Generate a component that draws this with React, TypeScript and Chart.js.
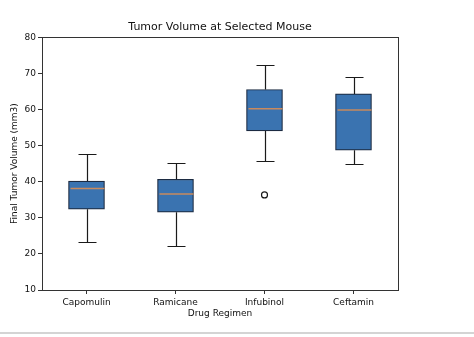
import React, { useEffect, useRef } from "react";
import { Chart, registerables } from "chart.js";

Chart.register(...registerables);

const categories = ["Capomulin", "Ramicane", "Infubinol", "Ceftamin"];
const q1 = [32.38, 31.56, 54.05, 48.72];
const q3 = [40.16, 40.66, 65.53, 64.3];
const medians = [38.13, 36.56, 60.17, 59.85];
const whiskerLow = [23.34, 22.05, 45.7, 45.0];
const whiskerHigh = [47.69, 45.22, 72.23, 68.92];
const outliers: (number | null)[] = [null, null, 36.32, null];
const yTicks = [10, 20, 30, 40, 50, 60, 70, 80];

const FONT = "'DejaVu Sans', sans-serif";

const boxPlugin = {
  id: "boxParts",
  afterDatasetsDraw(chart: any) {
    const ctx = chart.ctx;
    const xs = chart.scales.x;
    const ys = chart.scales.y;
    const meta = chart.getDatasetMeta(0);
    ctx.save();
    categories.forEach((_, i) => {
      const bar = meta.data[i];
      const x = Math.round(xs.getPixelForValue(i)) + 0.5;
      const w = bar ? bar.width : 36;
      const cap = w / 2;
      const yq1 = ys.getPixelForValue(q1[i]);
      const yq3 = ys.getPixelForValue(q3[i]);
      const ylo = Math.round(ys.getPixelForValue(whiskerLow[i])) + 0.5;
      const yhi = Math.round(ys.getPixelForValue(whiskerHigh[i])) + 0.5;
      ctx.strokeStyle = "#1a1a1a";
      ctx.lineWidth = 1.2;
      ctx.beginPath();
      ctx.moveTo(x, yq3);
      ctx.lineTo(x, yhi);
      ctx.moveTo(x - cap / 2, yhi);
      ctx.lineTo(x + cap / 2, yhi);
      ctx.moveTo(x, yq1);
      ctx.lineTo(x, ylo);
      ctx.moveTo(x - cap / 2, ylo);
      ctx.lineTo(x + cap / 2, ylo);
      ctx.stroke();
      const ym = ys.getPixelForValue(medians[i]);
      ctx.strokeStyle = "#c98a5e";
      ctx.lineWidth = 1.5;
      ctx.beginPath();
      ctx.moveTo(x - w / 2 + 1, ym);
      ctx.lineTo(x + w / 2 - 1, ym);
      ctx.stroke();
    });
    const a = chart.chartArea;
    ctx.strokeStyle = "#333";
    ctx.lineWidth = 1;
    ctx.strokeRect(
      Math.round(a.left) + 0.5,
      Math.round(a.top) + 0.5,
      Math.round(a.right - a.left),
      Math.round(a.bottom - a.top)
    );
    ctx.restore();
  },
};

export default function App() {
  const ref = useRef<HTMLCanvasElement>(null);
  useEffect(() => {
    if (!ref.current) return;
    const chart = new Chart(ref.current, {
      type: "bar",
      data: {
        labels: categories,
        datasets: [
          {
            type: "bar",
            data: categories.map((_, i) => [q1[i], q3[i]]) as any,
            backgroundColor: "#3a73b0",
            borderColor: "#1c2b42",
            borderWidth: 1.2,
            borderSkipped: false,
            barThickness: 36,
          },
          {
            type: "line",
            data: outliers as any,
            showLine: false,
            pointRadius: 3,
            pointBackgroundColor: "#ffffff",
            pointBorderColor: "#1a1a1a",
            pointBorderWidth: 1.2,
          } as any,
        ],
      },
      options: {
        animation: false,
        responsive: false,
        events: [],
        layout: { padding: { left: 0, right: 76, top: 0, bottom: 0 } },
        plugins: {
          legend: { display: false },
          tooltip: { enabled: false },
          title: {
            display: true,
            text: "Tumor Volume at Selected Mouse",
            color: "#111",
            font: { family: FONT, size: 11, weight: "normal" },
            padding: { top: 21, bottom: 3 },
            fullSize: false,
          } as any,
        },
        scales: {
          x: {
            type: "category",
            offset: true,
            grid: {
              display: true,
              drawOnChartArea: false,
              drawTicks: true,
              tickLength: 4,
              color: "#333",
              offset: false,
            },
            border: { display: true, color: "#333" },
            ticks: {
              color: "#111",
              font: { family: FONT, size: 9 },
              padding: 3,
              maxRotation: 0,
            },
            title: {
              display: true,
              text: "Drug Regimen",
              color: "#111",
              font: { family: FONT, size: 9 },
              padding: { top: 0, bottom: 17.6 },
            },
            afterFit(scale: any) {
              scale.height = 47;
            },
          },
          y: {
            min: 10,
            max: 80,
            afterBuildTicks(scale: any) {
              scale.ticks = yTicks.map((v) => ({ value: v }));
            },
            grid: {
              display: true,
              drawOnChartArea: false,
              drawTicks: true,
              tickLength: 4,
              color: "#333",
            },
            border: { display: true, color: "#333" },
            ticks: {
              color: "#111",
              font: { family: FONT, size: 9 },
              padding: 2,
            },
            title: {
              display: true,
              text: "Final Tumor Volume (mm3)",
              color: "#111",
              font: { family: FONT, size: 9 },
              padding: { top: 9.6, bottom: 0 },
            },
            afterFit(scale: any) {
              scale.width = 42;
            },
          },
        },
      },
      plugins: [boxPlugin],
    });
    return () => chart.destroy();
  }, []);
  return (
    <div
      style={{
        position: "fixed",
        left: 0,
        top: 0,
        width: 474,
        height: 337,
        background: "#fff",
      }}
    >
      <canvas ref={ref} width={474} height={337} style={{ display: "block" }} />
      <div
        style={{
          position: "absolute",
          left: 0,
          top: 332,
          width: 474,
          height: 2,
          background: "#d4d4d4",
        }}
      />
    </div>
  );
}
